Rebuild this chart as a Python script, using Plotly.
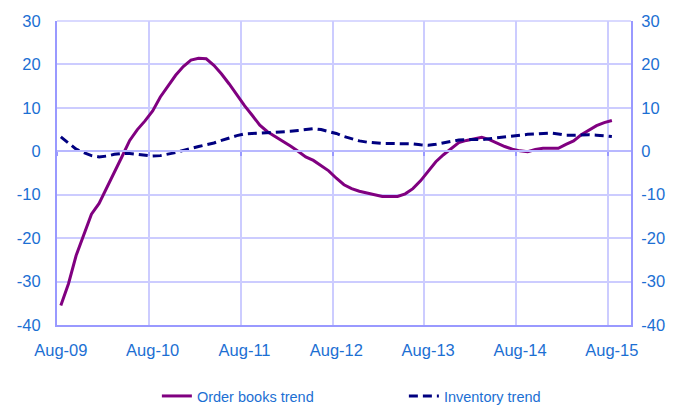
import plotly.graph_objects as go

# Monthly categories Aug-09 .. Oct-15 (last two empty on the category axis)
months = ["Jan", "Feb", "Mar", "Apr", "May", "Jun", "Jul", "Aug", "Sep", "Oct", "Nov", "Dec"]
categories = []
y, m = 2009, 7
while not (y == 2015 and m == 10):
    categories.append(f"{months[m]}-{str(y)[2:]}")
    m += 1
    if m == 12:
        m = 0
        y += 1

order_books = [
    -35.5, -30.5, -24.0, -19.0, -14.5, -12.0, -8.5, -5.0, -1.2, 2.5,
    5.0, 7.0, 9.3, 12.5, 15.0, 17.5, 19.5, 21.0, 21.4, 21.3,
    19.8, 17.8, 15.5, 13.0, 10.5, 8.3, 6.0, 4.5, 3.4, 2.5,
    1.2, 0.0, -1.3, -2.1, -3.2, -4.5, -6.2, -7.7, -8.6, -9.2,
    -9.6, -10.0, -10.4, -10.4, -10.4, -9.8, -8.6, -6.8, -4.6, -2.4,
    -0.8, 0.6, 2.0, 2.5, 2.9, 3.2, 2.7, 1.9, 1.1, 0.5,
    0.1, -0.1, 0.4, 0.7, 0.7, 0.7, 1.6, 2.4, 3.8, 4.9,
    5.9, 6.6, 7.1,
]
inventory = [
    3.3, 1.9, 0.5, -0.3, -1.0, -1.3, -1.1, -0.7, -0.5, -0.5,
    -0.7, -0.9, -1.1, -1.0, -0.7, -0.3, 0.2, 0.7, 1.1, 1.5,
    1.9, 2.5, 3.1, 3.6, 4.0, 4.1, 4.2, 4.2, 4.3, 4.4,
    4.6, 4.8, 5.0, 5.2, 5.0, 4.6, 4.1, 3.4, 2.9, 2.4,
    2.1, 1.9, 1.8, 1.8, 1.8, 1.8, 1.7, 1.5, 1.4, 1.6,
    1.9, 2.3, 2.6, 2.7, 2.7, 2.7, 2.9, 3.1, 3.4, 3.6,
    3.8, 3.9, 4.0, 4.1, 4.2, 4.0, 3.7, 3.7, 3.8, 3.8,
    3.7, 3.5, 3.4,
]
x_ticklabels = ["Aug-09", "Aug-10", "Aug-11", "Aug-12", "Aug-13", "Aug-14", "Aug-15"]
y_ticks = [-40, -30, -20, -10, 0, 10, 20, 30]
y_ticktext = [str(v) for v in y_ticks]

idx = list(range(len(order_books)))
n_cat = len(categories)
label_pos = [categories.index(l) for l in x_ticklabels]
grid_pos = [p - 0.5 for p in label_pos]

TXT = "#1C6FD3"
GRID = "#CCCCFF"
AXIS = "#9999FF"
CLEAR = "rgba(0,0,0,0)"
FONT = "Liberation Sans, Arial, sans-serif"

fig = go.Figure()
fig.add_trace(go.Scatter(x=idx, y=order_books, mode="lines", name="Order books trend",
                         line=dict(color="#800080", width=3)))
fig.add_trace(go.Scatter(x=idx, y=inventory, mode="lines", name="Inventory trend",
                         line=dict(color="#000080", width=3, dash="9px,5px")))
# helper (invisible) trace so the secondary axes are rendered
fig.add_trace(go.Scatter(x=idx, y=inventory, mode="lines", xaxis="x2", yaxis="y2",
                         line=dict(width=0), opacity=0, showlegend=False, hoverinfo="skip"))

xrange = [-0.5, n_cat - 0.5]
fig.update_layout(
    width=677, height=408,
    margin=dict(l=57, r=46, t=21, b=83, autoexpand=False),
    paper_bgcolor="white", plot_bgcolor="white",
    font=dict(family=FONT, color=TXT, size=16),
    xaxis=dict(range=xrange, tickmode="array", tickvals=label_pos, ticktext=x_ticklabels,
               showgrid=False, zeroline=False, showline=True, linecolor=AXIS, linewidth=2,
               mirror=False, ticks="outside", ticklen=9, tickcolor=CLEAR, automargin=False,
               tickfont=dict(size=16.5, color=TXT),
               minor=dict(tickmode="array", tickvals=grid_pos, showgrid=True,
                          gridcolor=GRID, gridwidth=1.5, ticks="")),
    yaxis=dict(range=[-40, 30], tickmode="array", tickvals=y_ticks, ticktext=y_ticktext,
               showgrid=True, gridcolor=GRID, gridwidth=1.5, zeroline=False,
               showline=True, linecolor=AXIS, linewidth=2,
               ticks="outside", ticklen=11, tickcolor=CLEAR, automargin=False,
               tickfont=dict(size=16.5, color=TXT)),
    xaxis2=dict(range=xrange, overlaying="x", anchor="free", position=40 / 70,
                tickmode="array", tickvals=grid_pos, showticklabels=False,
                ticks="outside", ticklen=4, tickcolor=AXIS, tickwidth=1.5, automargin=False,
                showline=True, linecolor="#B8B8FF", linewidth=2, showgrid=False, zeroline=False),
    yaxis2=dict(range=[-40, 30], overlaying="y", side="right", anchor="x",
                tickmode="array", tickvals=y_ticks, ticktext=y_ticktext,
                showgrid=False, zeroline=False, automargin=False,
                showline=True, linecolor=AXIS, linewidth=2,
                ticks="outside", ticklen=5, tickcolor=CLEAR,
                tickfont=dict(size=16.5, color=TXT)),
    legend=dict(orientation="h", x=0.174, xanchor="left", y=-0.181, yanchor="top",
                font=dict(size=14.5, color=TXT), entrywidth=202, entrywidthmode="pixels",
                bgcolor=CLEAR),
    showlegend=True,
)
fig.add_shape(type="line", xref="paper", yref="paper", x0=0, x1=1, y0=1, y1=1,
              line=dict(color=GRID, width=1.5))

fig.write_html("out.html", config={"displayModeBar": False},
               post_script="document.body.style.margin='0';document.body.style.overflow='hidden';")
